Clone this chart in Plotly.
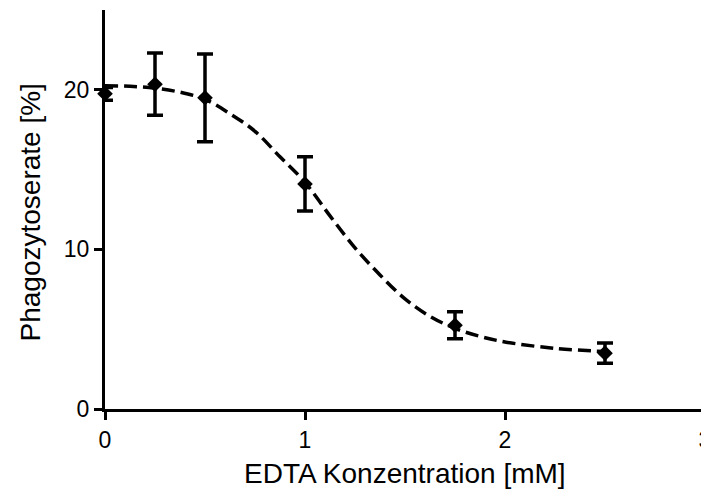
import plotly.graph_objects as go

# Measured data (mean ± error)
conc = [0, 0.25, 0.5, 1.0, 1.75, 2.5]
rate = [19.75, 20.35, 19.5, 14.1, 5.25, 3.5]
err = [0.4, 1.95, 2.75, 1.7, 0.85, 0.63]

# Fitted curve
fit_x = [0, 0.125, 0.25, 0.375, 0.5, 0.625, 0.75, 0.875, 1.0, 1.125, 1.25, 1.375,
         1.5, 1.625, 1.75, 1.875, 2.0, 2.25, 2.5]
fit_y = [20.25, 20.22, 20.1, 19.85, 19.4, 18.5, 17.4, 15.8, 14.2, 12.1, 10.1, 8.4,
         6.9, 5.8, 5.05, 4.55, 4.2, 3.8, 3.6]

x_ticks = [0, 1, 2, 3]
y_ticks = [0, 10, 20]
x_title = "EDTA Konzentration [mM]"
y_title = "Phagozytoserate [%]"

fig = go.Figure()
fig.add_trace(go.Scatter(
    x=fit_x, y=fit_y, mode="lines",
    line=dict(color="black", width=3.5, dash="13px,6px", shape="spline"),
    hoverinfo="skip", showlegend=False, cliponaxis=False))
fig.add_trace(go.Scatter(
    x=conc, y=rate, mode="markers",
    marker=dict(symbol="diamond", size=12, color="black"),
    error_y=dict(type="data", array=err, color="black", thickness=3.5, width=8),
    showlegend=False, cliponaxis=False))

font = "Liberation Sans, Arial, sans-serif"
# page body has an 8px margin, so the figure is sized/offset to compensate
fig.update_layout(
    width=701, height=489,
    margin=dict(l=97, r=4, t=2, b=88),
    paper_bgcolor="white", plot_bgcolor="white",
    font=dict(family=font, color="black"),
    annotations=[
        dict(text=x_title, xref="paper", yref="paper", x=0.5, y=0,
             xanchor="center", yanchor="middle", yshift=-64,
             showarrow=False, font=dict(size=28)),
        dict(text=y_title, xref="paper", yref="paper", x=0, y=0.5,
             xanchor="center", yanchor="middle", xshift=-75, yshift=-3,
             textangle=-90, showarrow=False, font=dict(size=28)),
    ],
)
fig.update_xaxes(
    range=[0, 3], tickvals=x_ticks, ticktext=[str(v) for v in x_ticks],
    showgrid=False, zeroline=False, showline=True, linecolor="black", linewidth=3,
    ticks="outside", ticklen=8, tickwidth=3, tickcolor="black",
    tickfont=dict(size=23), automargin=False, ticklabeloverflow="allow",
)
fig.update_yaxes(
    range=[0, 25], tickvals=y_ticks, ticktext=[str(v) for v in y_ticks],
    showgrid=False, zeroline=False, showline=True, linecolor="black", linewidth=3,
    ticks="outside", ticklen=8, tickwidth=3, tickcolor="black",
    tickfont=dict(size=23), automargin=False, ticklabeloverflow="allow",
)
fig.write_html("out.html")
